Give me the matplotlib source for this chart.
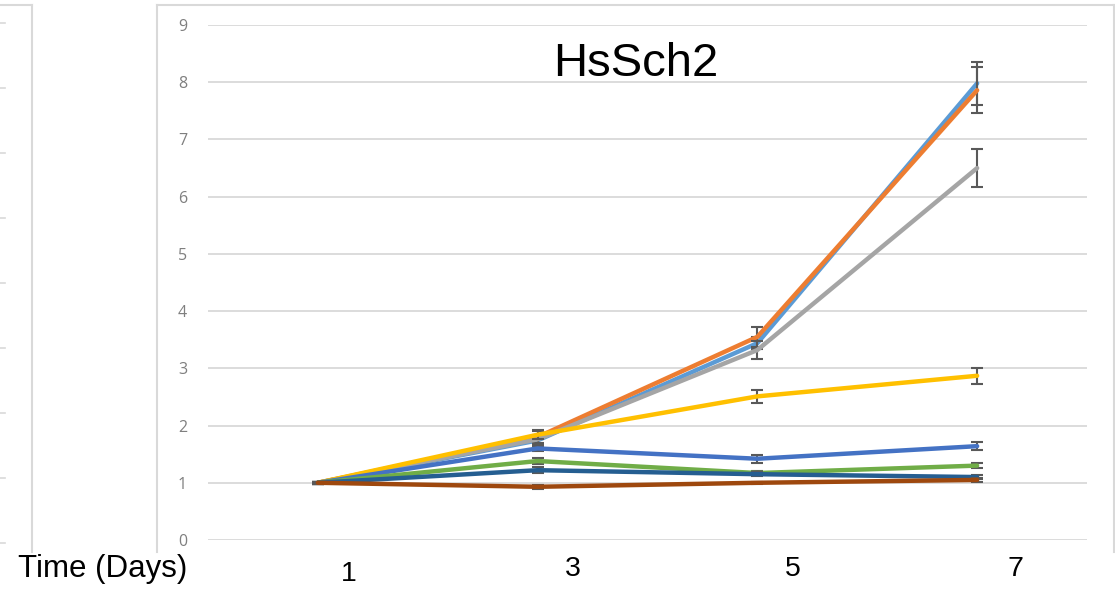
import matplotlib.pyplot as plt
from matplotlib.lines import Line2D

# categories (days) and series values
days = ['1', '3', '5', '7']

series_names = ['S1', 'S2', 'S3', 'S4', 'S5', 'S6', 'S7', 'S8']
series_colors = ['#5B9BD5', '#ED7D31', '#A5A5A5', '#FFC000',
                 '#4472C4', '#70AD47', '#255E91', '#9E480E']

light_blue = [1.00, 1.74, 3.44, 7.98]
orange = [1.00, 1.80, 3.55, 7.86]
gray = [1.00, 1.76, 3.32, 6.50]
yellow = [1.00, 1.84, 2.51, 2.87]
blue = [1.00, 1.60, 1.42, 1.64]
green = [1.00, 1.38, 1.17, 1.30]
dark_blue = [1.00, 1.22, 1.15, 1.10]
brown = [1.00, 0.93, 1.00, 1.05]

light_blue_err = [0.02, 0.08, 0.10, 0.38]
orange_err = [0.02, 0.10, 0.17, 0.40]
gray_err = [0.02, 0.08, 0.16, 0.33]
yellow_err = [0.02, 0.08, 0.12, 0.14]
blue_err = [0.02, 0.05, 0.07, 0.075]
green_err = [0.02, 0.05, 0.04, 0.05]
dark_blue_err = [0.02, 0.05, 0.04, 0.04]
brown_err = [0.02, 0.03, 0.02, 0.03]

y_ticks = list(range(0, 10))

values = [light_blue, orange, gray, yellow, blue, green, dark_blue, brown]
errors = [light_blue_err, orange_err, gray_err, yellow_err,
          blue_err, green_err, dark_blue_err, brown_err]

W, H = 1115, 591
fig = plt.figure(figsize=(W / 100, H / 100), dpi=100)
plt.rcParams['font.family'] = ['Liberation Sans', 'DejaVu Sans']


def fx(px):
    return px / W


def fy(py):
    return 1 - py / H


ax = fig.add_axes([fx(208), fy(540), fx(1087) - fx(208), fy(25) - fy(540)])

x = list(range(len(days)))
for i, (name, vals, errs) in enumerate(zip(series_names, values, errors)):
    ax.errorbar(x, vals, yerr=errs, color=series_colors[i], lw=3.2,
                ecolor='#595959', elinewidth=1.5, capsize=4, capthick=1.5,
                label=name, zorder=3 + i, solid_capstyle='round')

ax.set_xlim(-0.5, len(days) - 0.5)
ax.set_ylim(0, 9)
ax.set_yticks(y_ticks)
ax.set_yticklabels([str(t) for t in y_ticks], family=['Open Sans', 'DejaVu Sans'],
                   fontsize=11.5, color='#7f7f7f')
ax.set_xticks([])
ax.tick_params(axis='y', length=0, pad=15)
ax.grid(axis='y', color='#d9d9d9', lw=1.3)
ax.set_axisbelow(True)
for s in ax.spines.values():
    s.set_visible(False)

# title inside the plot area
fig.text(fx(636), fy(64), 'HsSch2', fontsize=34, ha='center', va='center')

# x labels drawn as a separate text row (offset from the points as in the original)
label_x = [349, 573, 793, 1015]
label_y = [574, 569, 569, 569]
for lab, lx, ly in zip(days, label_x, label_y):
    fig.text(fx(lx), fy(ly), lab, fontsize=20.5, ha='center', va='center')
fig.text(fx(18), fy(569), 'Time (Days)', fontsize=22.5, ha='left', va='center')

# chart frame borders and fragment of neighbouring chart
border = '#d9d9d9'
frame = [
    ([157, 157], [5, 552]),
    ([157, 1114], [5, 5]),
    ([1114, 1114], [5, 552]),
    ([32, 32], [5, 552]),
    ([0, 32], [5, 5]),
]
for xs, ys in frame:
    fig.add_artist(Line2D([fx(v) for v in xs], [fy(v) for v in ys],
                          color=border, lw=1.5))
for k in range(9):
    ty = 23 + 65 * k
    fig.add_artist(Line2D([fx(0), fx(5)], [fy(ty), fy(ty)], color=border, lw=1.2))

fig.savefig('out.png', dpi=100)
